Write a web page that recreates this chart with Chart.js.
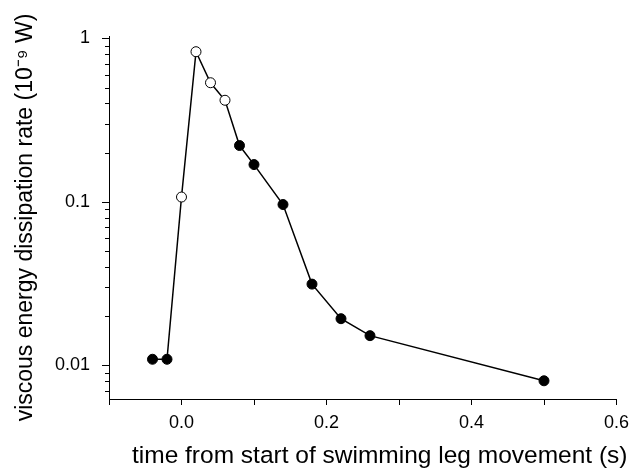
<!DOCTYPE html>
<html>
<head>
<meta charset="utf-8">
<script src="https://cdn.jsdelivr.net/npm/chart.js@4/dist/chart.umd.min.js"></script>
<style>
html,body{margin:0;padding:0;background:#fff}
#wrap{width:642px;height:475px}
</style>
</head>
<body>
<div id="wrap"><canvas id="chart" width="642" height="475"></canvas></div>
<script>
// time from start of leg movement (s) and dissipation rate (10^-9 W)
const timeS=[-0.04,-0.02,0.00,0.02,0.04,0.06,0.08,0.10,0.14,0.18,0.22,0.26,0.50];
const dissipation=[0.0109,0.0109,0.107,0.828,0.535,0.418,0.221,0.169,0.0963,0.0314,0.0193,0.0152,0.00805];
const hollow=[false,false,true,true,true,true,false,false,false,false,false,false,false];

const xTicks=[-0.1,0,0.1,0.2,0.3,0.4,0.5,0.6];
const xTickLabels=["","0.0","","0.2","","0.4","","0.6"];
const yMajorTicks=[0.01,0.1,1];
const yMajorLabels=["0.01","0.1","1"];
const yMinorTicks=[0.007,0.008,0.009,0.02,0.03,0.04,0.05,0.06,0.07,0.08,0.09,0.2,0.3,0.4,0.5,0.6,0.7,0.8,0.9];

const FONT="'Liberation Sans', Arial, sans-serif";
const xTitle="time from start of swimming leg movement (s)";

// outward tick marks (long on decades) plus the x title, which sits right of centre
const tickMarks={
  id:"tickMarks",
  afterDraw(chart){
    const {ctx,scales:{x,y}}=chart;
    ctx.save();
    ctx.strokeStyle="#000";ctx.lineWidth=1;
    ctx.beginPath();
    y.ticks.forEach(t=>{
      const py=Math.round(y.getPixelForValue(t.value))+0.5;
      const len=yMajorTicks.includes(t.value)?7:4;
      ctx.moveTo(x.left-len,py);ctx.lineTo(x.left,py);
    });
    x.ticks.forEach(t=>{
      const px=Math.round(x.getPixelForValue(t.value))+0.5;
      ctx.moveTo(px,y.bottom);ctx.lineTo(px,y.bottom+6);
    });
    ctx.stroke();
    ctx.fillStyle="#000";
    ctx.font="24.5px "+FONT;
    ctx.textAlign="center";ctx.textBaseline="middle";
    ctx.fillText(xTitle,(x.left+x.right)/2+17,chart.height-19);
    ctx.restore();
  }
};

new Chart(document.getElementById("chart"),{
  type:"line",
  data:{datasets:[{
    data:timeS.map((t,i)=>({x:t,y:dissipation[i]})),
    borderColor:"#000",
    borderWidth:1.5,
    tension:0,
    pointRadius:5,
    pointBorderWidth:1,
    pointBorderColor:"#000",
    pointBackgroundColor:ctx=>hollow[ctx.dataIndex]?"#fff":"#000"
  }]},
  options:{
    responsive:false,
    animation:false,
    devicePixelRatio:1,
    layout:{padding:{left:0,right:17,top:36,bottom:0}},
    plugins:{legend:{display:false},tooltip:{enabled:false}},
    scales:{
      x:{
        type:"linear",min:-0.1,max:0.6,
        afterBuildTicks:s=>{s.ticks=xTicks.map(v=>({value:v}))},
        afterFit:s=>{s.height=76},
        grid:{display:false,drawTicks:false},
        border:{display:true,color:"#000",width:1},
        ticks:{color:"#000",padding:13,font:{family:FONT,size:18},maxRotation:0,autoSkip:false,
          callback:(v,i)=>xTickLabels[i]},
        title:{display:false}
      },
      y:{
        type:"logarithmic",min:0.00623,max:1.033,
        afterBuildTicks:s=>{s.ticks=[...yMinorTicks,...yMajorTicks].sort((a,b)=>a-b).map(v=>({value:v}))},
        afterFit:s=>{s.width=109},
        grid:{display:false,drawTicks:false},
        border:{display:true,color:"#000",width:1},
        ticks:{color:"#000",padding:19,font:{family:FONT,size:18},autoSkip:false,
          callback:v=>{const k=yMajorTicks.indexOf(v);return k<0?"":yMajorLabels[k]}},
        title:{display:true,text:"viscous energy dissipation rate (10\u207B\u2079 W)",color:"#000",
          font:{family:FONT,size:23},padding:{top:12,bottom:0}}
      }
    }
  },
  plugins:[tickMarks]
});
</script>
</body>
</html>
